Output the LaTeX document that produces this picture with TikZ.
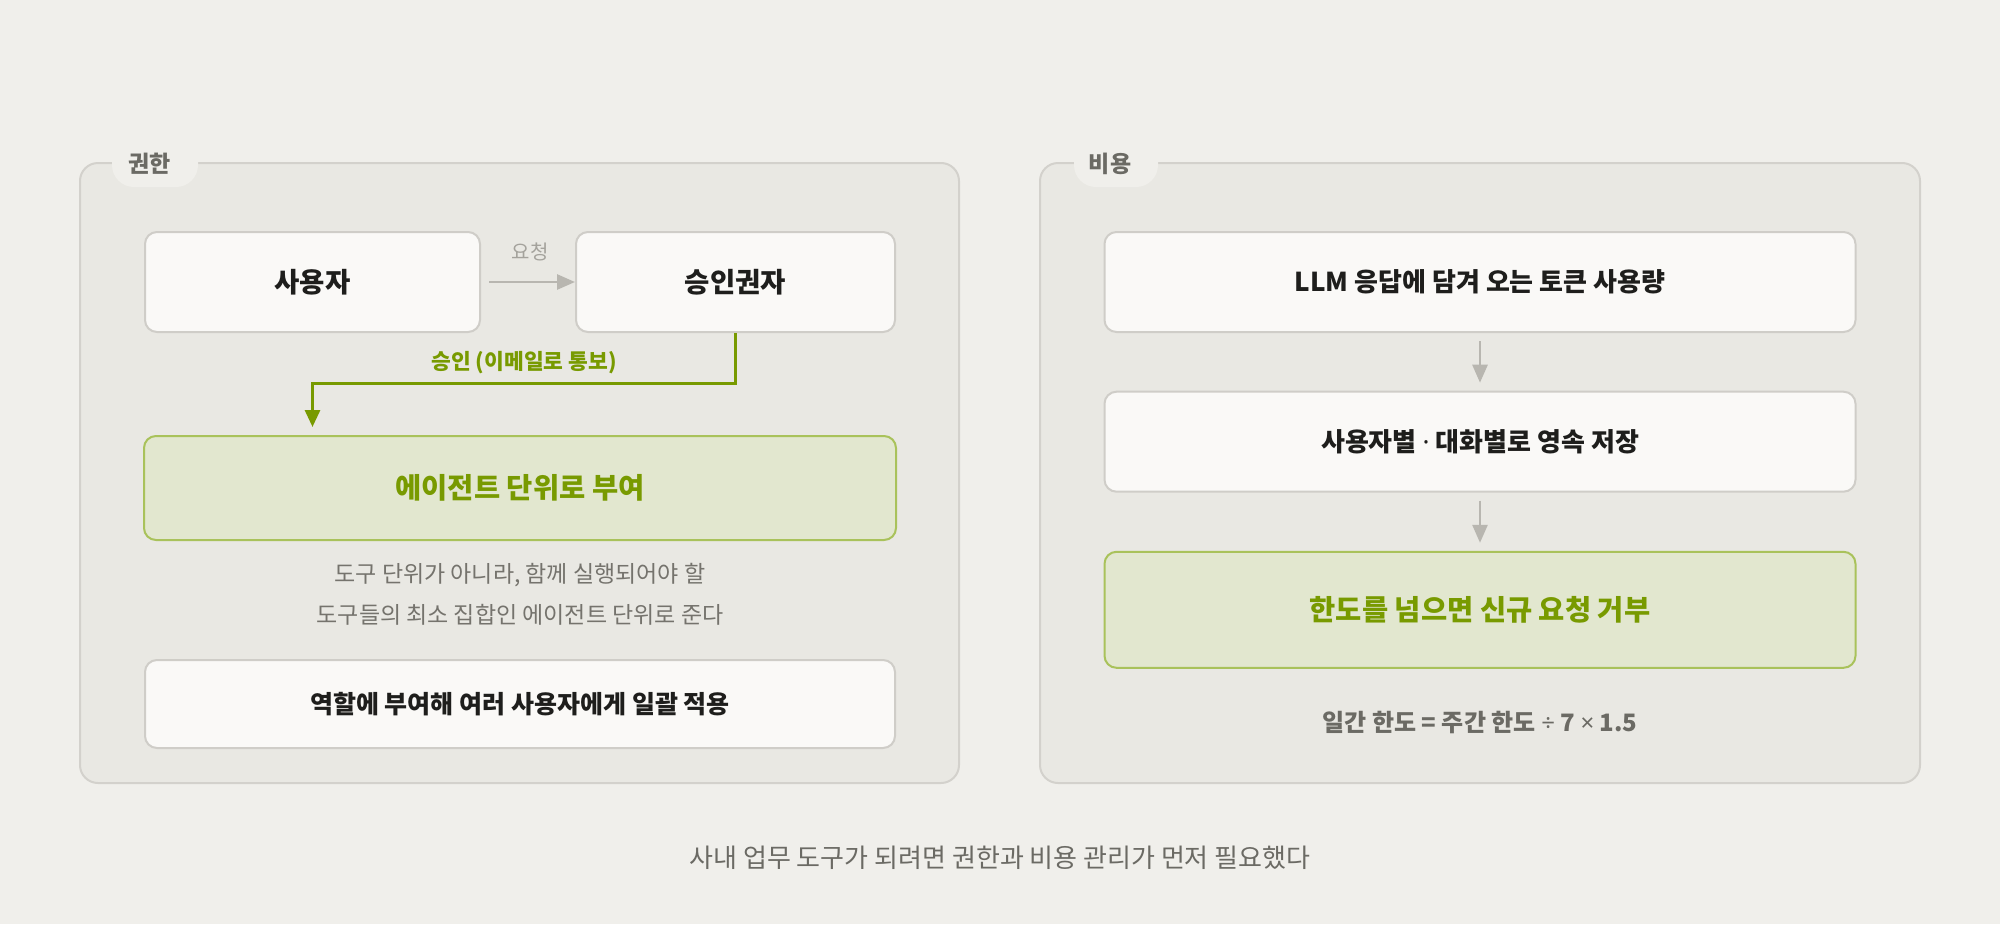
\documentclass[tikz,border=0pt]{standalone}
\usepackage{fontspec}
\setmainfont{Noto Sans CJK KR}
\newfontfamily\latinsym{Noto Sans}
\usetikzlibrary{arrows.meta}
\definecolor{bgc}{HTML}{F0EFEB}
\definecolor{panelfill}{HTML}{E9E8E3}
\definecolor{panelline}{HTML}{D3D1CC}
\definecolor{boxfill}{HTML}{FAF9F7}
\definecolor{boxline}{HTML}{CFCDC8}
\definecolor{greenfill}{HTML}{E2E7CF}
\definecolor{greenline}{HTML}{A9C25B}
\definecolor{greentext}{HTML}{789A00}
\definecolor{darktext}{HTML}{1E1E1C}
\definecolor{graytext}{HTML}{75736D}
\definecolor{tabtext}{HTML}{6B6A64}
\definecolor{arrowgray}{HTML}{B8B6B0}
\definecolor{reqgray}{HTML}{A4A29C}
\tikzset{
  panelbox/.style={draw=panelline, fill=panelfill, line width=2pt, rounded corners=18pt},
  tabbox/.style={fill=bgc, rounded corners=22pt, inner sep=0pt, minimum height=47pt},
  tablabel/.style={inner sep=0pt, text=tabtext, font=\fontsize{23}{27}\selectfont\bfseries},
  whitebox/.style={draw=boxline, fill=boxfill, line width=2pt, rounded corners=12pt, inner sep=0pt, text=darktext, font=\fontsize{26}{31}\selectfont\bfseries},
  greenbox/.style={draw=greenline, fill=greenfill, line width=2pt, rounded corners=12pt, inner sep=0pt, text=greentext, font=\fontsize{28.5}{34}\selectfont\bfseries},
  notetext/.style={inner sep=0pt, text=graytext, font=\fontsize{23}{27}\selectfont},
  grayarrow/.style={draw=arrowgray, line width=2.7pt, -{Triangle[length=18pt,width=15pt]}},
  greenarrow/.style={draw=greentext, line width=3pt, -{Triangle[length=17pt,width=15pt]}},
}
\begin{document}
\begin{tikzpicture}[x=1pt,y=-1pt]
\fill[bgc] (0,0) rectangle (2000,924);
\useasboundingbox (0,0) rectangle (2000,924);

% panels
\draw[panelbox] (80,163) rectangle (959,783);
\draw[panelbox] (1040,163) rectangle (1920,783);
\node[tabbox, minimum width=86pt] (tabl) at (155,163.5) {};
\node[tablabel] (tabltext) at (149.5,164) {권한};
\node[tabbox, minimum width=84pt] (tabr) at (1116,163.5) {};
\node[tablabel] (tabrtext) at (1110,164) {비용};

% left panel
\node[whitebox, minimum width=335pt, minimum height=100pt, font=\fontsize{27.5}{32}\selectfont\bfseries] (user) at (312.5,282) {사용자};
\node[whitebox, minimum width=319pt, minimum height=100pt, font=\fontsize{27.5}{32}\selectfont\bfseries] (approver) at (735.5,282) {승인권자};
\node[greenbox, minimum width=752pt, minimum height=104pt] (agent) at (520,488) {에이전트 단위로 부여};
\node[notetext] (note1) at (520,575) {도구 단위가 아니라, 함께 실행되어야 할};
\node[notetext] (note2) at (520,615) {도구들의 최소 집합인 에이전트 단위로 준다};
\node[whitebox, minimum width=750pt, minimum height=88pt, font=\fontsize{25}{30}\selectfont\bfseries] (role) at (520,704) {역할에 부여해 여러 사용자에게 일괄 적용};

\draw[grayarrow] ([xshift=8pt]user.east) -- (approver.west);
\node[inner sep=0pt, text=reqgray, font=\fontsize{20}{24}\selectfont] (req) at (530,252) {요청};

\coordinate (bend) at (312.5,383);
\coordinate (gtip) at (312.5,427);
\draw[greenarrow] (approver.south) |- (bend) -- (gtip);
\node[inner sep=0pt, text=greentext, font=\fontsize{21.5}{25}\selectfont\bfseries] (appr) at (524,363) {승인 (이메일로 통보)};

% right panel
\node[whitebox, minimum width=751pt, minimum height=100pt] (llm) at (1480,282) {LLM 응답에 담겨 오는 토큰 사용량};
\node[whitebox, minimum width=751pt, minimum height=100pt] (store) at (1480,441.7) {사용자별 {\latinsym·} 대화별로 영속 저장};
\node[greenbox, minimum width=751pt, minimum height=116pt] (limit) at (1480,609.8) {한도를 넘으면 신규 요청 거부};
\node[inner sep=0pt, text=tabtext, font=\fontsize{24}{28}\selectfont\bfseries] (formula) at (1480,722.5) {일간 한도 = 주간 한도 {\latinsym ÷} 7 {\latinsym ×} 1.5};

\draw[grayarrow] ([yshift=-8pt]llm.south) -- ([yshift=8pt]store.north);
\draw[grayarrow] ([yshift=-8pt]store.south) -- ([yshift=8pt]limit.north);

% caption
\node[inner sep=0pt, text=tabtext, font=\fontsize{26}{30}\selectfont] (caption) at (1000,858) {사내 업무 도구가 되려면 권한과 비용 관리가 먼저 필요했다};
\end{tikzpicture}
\end{document}
